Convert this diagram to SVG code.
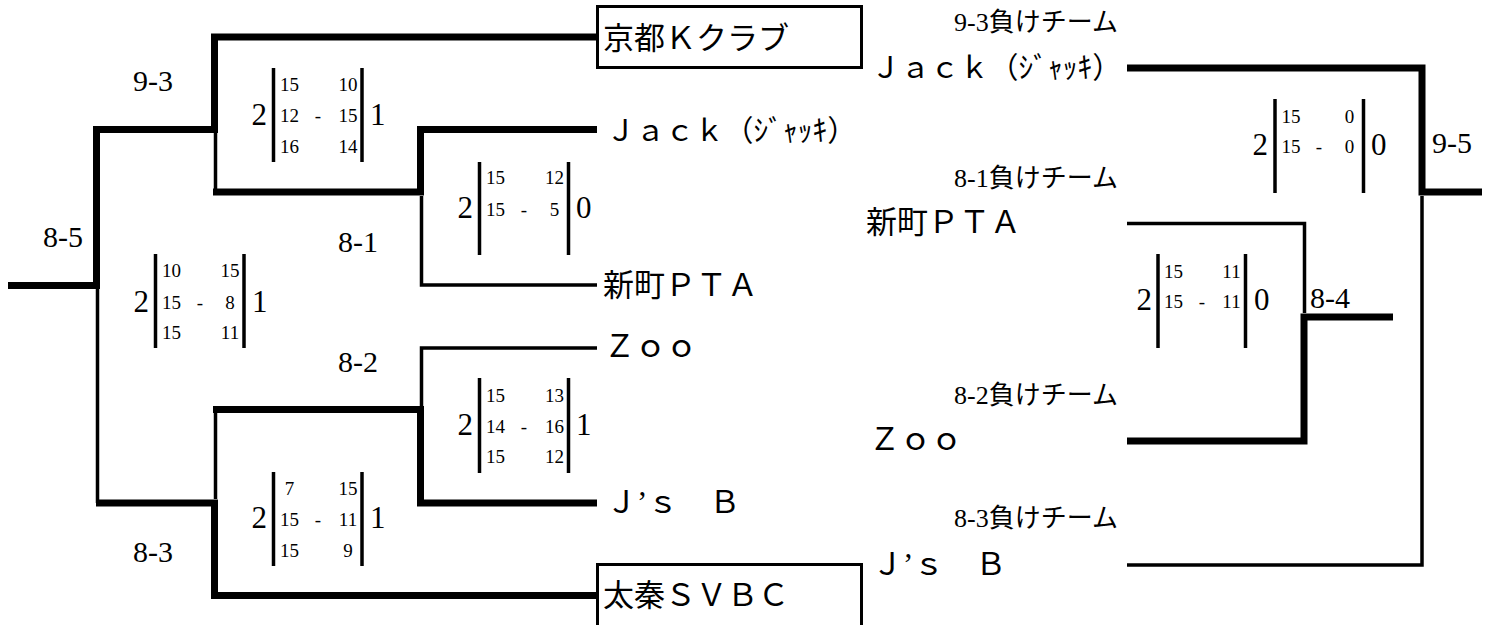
<svg xmlns="http://www.w3.org/2000/svg" width="1491" height="625" viewBox="0 0 1491 625">
<style>
.thick{fill:none;stroke:#000;stroke-width:7;stroke-linejoin:miter}
.thin{fill:none;stroke:#000;stroke-width:3.5;stroke-linejoin:miter}
.bar{stroke:#000;stroke-width:3.5}
.box{fill:#fff;stroke:#000;stroke-width:3}
text{font-family:"Liberation Serif","Noto Sans CJK JP",serif;fill:#000}
.name{font-size:31px}
.jack{font-size:29.5px}
.rnd{font-size:30px}
.big{font-size:31px}
.sm{font-size:19px;text-anchor:middle}
.lose{font-size:26px;text-anchor:end}
</style>
<rect width="1491" height="625" fill="#fff"/>
<g id="connectors">
  <path class="thick" d="M8 285.5H96.5V129.5H214.5V37H597"/>
  <path class="thin" d="M97.5 289V503"/>
  <path class="thick" d="M96 503H214.5V595.5H597"/>
  <path class="thin" d="M215.5 133V192"/>
  <path class="thick" d="M213 192H420.5V129.5H597"/>
  <path class="thin" d="M421.5 196V285H597"/>
  <path class="thin" d="M215.5 499V409.5"/>
  <path class="thick" d="M213 409.5H420.5V503H597"/>
  <path class="thin" d="M421.5 406V348H597"/>
  <path class="thick" d="M1127 68H1422V192H1482"/>
  <path class="thin" d="M1422 196V565H1127"/>
  <path class="thin" d="M1127 223.5H1304.5V313"/>
  <path class="thick" d="M1127 441H1304V317H1393"/>
</g>
<g id="team-kyoto">
  <rect class="box" x="597.5" y="6.5" width="264" height="61"/>
  <text class="name" x="603" y="49">京都Ｋクラブ</text>
</g>
<g id="team-jack"><text class="jack" x="606" y="141">Ｊａｃｋ（ｼﾞｬｯｷ）</text></g>
<g id="team-shinmachi"><text class="name" x="603" y="296">新町ＰＴＡ</text></g>
<g id="team-zoo"><text class="name" x="604" y="357">Ｚｏｏ</text></g>
<g id="team-jsb"><text class="name" x="606" y="513">Ｊ’ｓ　Ｂ</text></g>
<g id="team-uzumasa">
  <rect class="box" x="597.5" y="564.5" width="264" height="80"/>
  <text class="name" x="603" y="606">太秦ＳＶＢＣ</text>
</g>
<g id="round-labels">
  <text class="rnd" x="133" y="91">9-3</text>
  <text class="rnd" x="43" y="247">8-5</text>
  <text class="rnd" x="338" y="252">8-1</text>
  <text class="rnd" x="338" y="372">8-2</text>
  <text class="rnd" x="133" y="562">8-3</text>
  <text class="rnd" x="1432" y="153">9-5</text>
  <text class="rnd" x="1310" y="308">8-4</text>
</g>
<g id="loser-labels">
  <text class="lose" x="1118" y="31">9-3負けチーム</text>
  <text class="lose" x="1118" y="187">8-1負けチーム</text>
  <text class="lose" x="1118" y="404">8-2負けチーム</text>
  <text class="lose" x="1118" y="527">8-3負けチーム</text>
</g>
<g id="loser-jack"><text class="jack" x="871" y="78">Ｊａｃｋ（ｼﾞｬｯｷ）</text></g>
<g id="loser-shinmachi"><text class="name" x="866" y="233">新町ＰＴＡ</text></g>
<g id="loser-zoo"><text class="name" x="869" y="450">Ｚｏｏ</text></g>
<g id="loser-jsb"><text class="name" x="872" y="575">Ｊ’ｓ　Ｂ</text></g>
<g id="score-9-3">
  <line class="bar" x1="273.5" y1="68" x2="273.5" y2="162"/>
  <line class="bar" x1="362" y1="68" x2="362" y2="162"/>
  <text class="big" x="267" y="125" text-anchor="end">2</text>
  <text class="big" x="370" y="125">1</text>
  <text class="sm" x="289.5" y="91">15</text><text class="sm" x="348" y="91">10</text>
  <text class="sm" x="289.5" y="122">12</text><text class="sm" x="318" y="122">-</text><text class="sm" x="348" y="122">15</text>
  <text class="sm" x="289.5" y="153">16</text><text class="sm" x="348" y="153">14</text>
</g>
<g id="score-8-5">
  <line class="bar" x1="155.5" y1="254" x2="155.5" y2="348"/>
  <line class="bar" x1="244" y1="254" x2="244" y2="348"/>
  <text class="big" x="149" y="312" text-anchor="end">2</text>
  <text class="big" x="252" y="312">1</text>
  <text class="sm" x="171.5" y="277">10</text><text class="sm" x="230" y="277">15</text>
  <text class="sm" x="171.5" y="309">15</text><text class="sm" x="200" y="309">-</text><text class="sm" x="230" y="309">8</text>
  <text class="sm" x="171.5" y="339">15</text><text class="sm" x="230" y="339">11</text>
</g>
<g id="score-8-1">
  <line class="bar" x1="479.5" y1="162" x2="479.5" y2="255"/>
  <line class="bar" x1="568.5" y1="162" x2="568.5" y2="255"/>
  <text class="big" x="473" y="218" text-anchor="end">2</text>
  <text class="big" x="576" y="218">0</text>
  <text class="sm" x="495.5" y="184">15</text><text class="sm" x="554.5" y="184">12</text>
  <text class="sm" x="495.5" y="216">15</text><text class="sm" x="524" y="216">-</text><text class="sm" x="554.5" y="216">5</text>
</g>
<g id="score-8-2">
  <line class="bar" x1="479.5" y1="378" x2="479.5" y2="473"/>
  <line class="bar" x1="568.5" y1="378" x2="568.5" y2="473"/>
  <text class="big" x="473" y="435" text-anchor="end">2</text>
  <text class="big" x="576" y="435">1</text>
  <text class="sm" x="495.5" y="402">15</text><text class="sm" x="554.5" y="402">13</text>
  <text class="sm" x="495.5" y="433">14</text><text class="sm" x="524" y="433">-</text><text class="sm" x="554.5" y="433">16</text>
  <text class="sm" x="495.5" y="463">15</text><text class="sm" x="554.5" y="463">12</text>
</g>
<g id="score-8-3">
  <line class="bar" x1="273.5" y1="472" x2="273.5" y2="566"/>
  <line class="bar" x1="362" y1="472" x2="362" y2="566"/>
  <text class="big" x="267" y="528" text-anchor="end">2</text>
  <text class="big" x="370" y="528">1</text>
  <text class="sm" x="289.5" y="495">7</text><text class="sm" x="348" y="495">15</text>
  <text class="sm" x="289.5" y="526">15</text><text class="sm" x="318" y="526">-</text><text class="sm" x="348" y="526">11</text>
  <text class="sm" x="289.5" y="557">15</text><text class="sm" x="348" y="557">9</text>
</g>
<g id="score-9-5">
  <line class="bar" x1="1275" y1="99" x2="1275" y2="193"/>
  <line class="bar" x1="1363.5" y1="99" x2="1363.5" y2="193"/>
  <text class="big" x="1268" y="155" text-anchor="end">2</text>
  <text class="big" x="1371" y="155">0</text>
  <text class="sm" x="1291" y="123">15</text><text class="sm" x="1349.5" y="123">0</text>
  <text class="sm" x="1291" y="153">15</text><text class="sm" x="1319" y="153">-</text><text class="sm" x="1349.5" y="153">0</text>
</g>
<g id="score-8-4">
  <line class="bar" x1="1158" y1="254" x2="1158" y2="348"/>
  <line class="bar" x1="1245.5" y1="254" x2="1245.5" y2="348"/>
  <text class="big" x="1152" y="310" text-anchor="end">2</text>
  <text class="big" x="1254" y="310">0</text>
  <text class="sm" x="1173.5" y="278">15</text><text class="sm" x="1231.5" y="278">11</text>
  <text class="sm" x="1173.5" y="308">15</text><text class="sm" x="1202" y="308">-</text><text class="sm" x="1231.5" y="308">11</text>
</g>
</svg>
